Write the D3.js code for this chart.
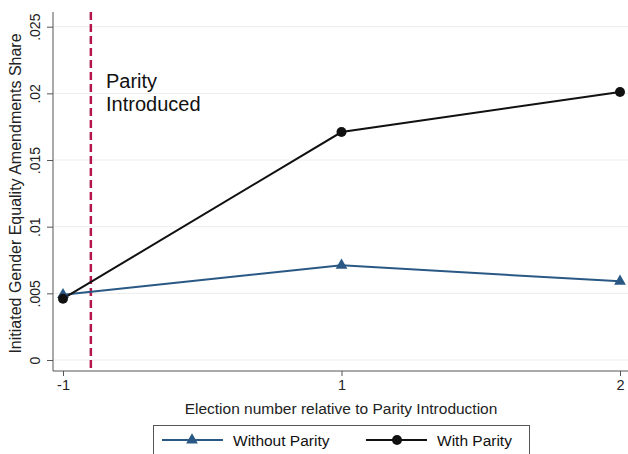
<!DOCTYPE html>
<html lang="en">
<head>
<meta charset="UTF-8">
<title>Parity chart</title>
<script src="https://cdn.jsdelivr.net/npm/d3@7"></script>
<style>
    body { margin: 0; background: #fff; }
    svg { display: block; font-family: "Liberation Sans", Arial, sans-serif; }
</style>
</head>
<body>
<div id="chart"></div>
<script>
    // data
    const elections = ["-1", "1", "2"];
    const withoutParity = [0.0049, 0.0071, 0.0059];
    const withParity = [0.0046, 0.0171, 0.0201];
    const yTicks = [0, 0.005, 0.01, 0.015, 0.02, 0.025];
    const yTickLabels = ["0", ".005", ".01", ".015", ".02", ".025"];
    const parityAt = 0.1; // position of the dashed line, in election index units

    const W = 628, H = 454;
    const svg = d3.select("#chart").append("svg").attr("width", W).attr("height", H);

    const pLeft = 53, pRight = 628, pTop = 12, pBottom = 371;

    const x = d3.scaleLinear().domain([0, elections.length - 1]).range([63, 620]);
    const y = d3.scaleLinear().domain([0, 0.025]).range([360, 26.7]);

    // grid
    svg.append("g").selectAll("line")
        .data(yTicks)
        .join("line")
        .attr("x1", pLeft).attr("x2", pRight)
        .attr("y1", d => y(d)).attr("y2", d => y(d))
        .attr("stroke", "#ececec").attr("stroke-width", 1);

    // axes
    const yAxis = svg.append("g")
        .attr("transform", `translate(${pLeft},0)`)
        .call(d3.axisLeft(y).tickValues(yTicks).tickFormat((d, i) => yTickLabels[i]).tickSize(6).tickPadding(4));
    yAxis.select(".domain").attr("d", `M0,${pTop}V${pBottom}`).attr("stroke", "#555");
    yAxis.selectAll(".tick line").attr("stroke", "#555");
    yAxis.selectAll(".tick text")
        .attr("transform", "rotate(-90)")
        .attr("x", 0).attr("y", -13)
        .attr("dy", "0")
        .style("text-anchor", "middle")
        .style("font-size", "14px")
        .attr("fill", "#222");

    const xAxis = svg.append("g")
        .attr("transform", `translate(0,${pBottom})`)
        .call(d3.axisBottom(x).tickValues(d3.range(elections.length)).tickFormat(i => elections[i]).tickSize(5).tickPadding(4));
    xAxis.select(".domain").attr("d", `M${pLeft},0H${pRight}`).attr("stroke", "#555");
    xAxis.selectAll(".tick line").attr("stroke", "#555");
    xAxis.selectAll(".tick text").style("font-size", "14.5px").attr("fill", "#222");

    // titles
    svg.append("text")
        .attr("transform", `translate(21,${(pTop + pBottom) / 2 + 2}) rotate(-90)`)
        .style("text-anchor", "middle")
        .style("font-size", "16px")
        .attr("fill", "#222")
        .text("Initiated Gender Equality Amendments Share");

    svg.append("text")
        .attr("x", 341).attr("y", 414)
        .style("text-anchor", "middle")
        .style("font-size", "15.5px")
        .attr("fill", "#222")
        .text("Election number relative to Parity Introduction");

    // parity line
    svg.append("line")
        .attr("x1", x(parityAt)).attr("x2", x(parityAt))
        .attr("y1", pTop).attr("y2", pBottom)
        .attr("stroke", "#b5174d").attr("stroke-width", 2.5)
        .attr("stroke-dasharray", "8,4");

    svg.append("text")
        .attr("x", 106).attr("y", 88)
        .style("font-size", "20px")
        .attr("fill", "#111")
        .selectAll("tspan")
        .data(["Parity", "Introduced"])
        .join("tspan")
        .attr("x", 106)
        .attr("dy", (d, i) => i === 0 ? 0 : 23)
        .text(d => d);

    const blue = "#2a5885", black = "#111";
    const line = d3.line().x((d, i) => x(i)).y(d => y(d));
    const tri = d3.symbol().type(d3.symbolTriangle).size(60);

    svg.append("path").datum(withoutParity)
        .attr("d", line).attr("fill", "none").attr("stroke", blue).attr("stroke-width", 2);
    svg.append("path").datum(withParity)
        .attr("d", line).attr("fill", "none").attr("stroke", black).attr("stroke-width", 2);

    svg.append("g").selectAll("path")
        .data(withoutParity)
        .join("path")
        .attr("d", tri)
        .attr("transform", (d, i) => `translate(${x(i)},${y(d)})`)
        .attr("fill", blue);
    svg.append("g").selectAll("circle")
        .data(withParity)
        .join("circle")
        .attr("cx", (d, i) => x(i)).attr("cy", d => y(d)).attr("r", 5)
        .attr("fill", black);

    // legend
    const lg = svg.append("g");
    lg.append("rect")
        .attr("x", 153.5).attr("y", 425.5).attr("width", 376).attr("height", 34)
        .attr("fill", "#fff").attr("stroke", "#555");
    const items = [
        { label: "Without Parity", color: blue, sym: "tri", x0: 162 },
        { label: "With Parity", color: black, sym: "circle", x0: 366 }
    ];
    items.forEach(d => {
        const g = lg.append("g").attr("transform", `translate(${d.x0},440)`);
        g.append("line").attr("x1", 0).attr("x2", 61).attr("stroke", d.color).attr("stroke-width", 2);
        if (d.sym === "tri") {
            g.append("path").attr("d", tri).attr("transform", "translate(30,0)").attr("fill", d.color);
        } else {
            g.append("circle").attr("cx", 31).attr("r", 5).attr("fill", d.color);
        }
        g.append("text").attr("x", 71).attr("y", 6)
            .style("font-size", "15.5px").attr("fill", "#111").text(d.label);
    });
</script>
</body>
</html>
